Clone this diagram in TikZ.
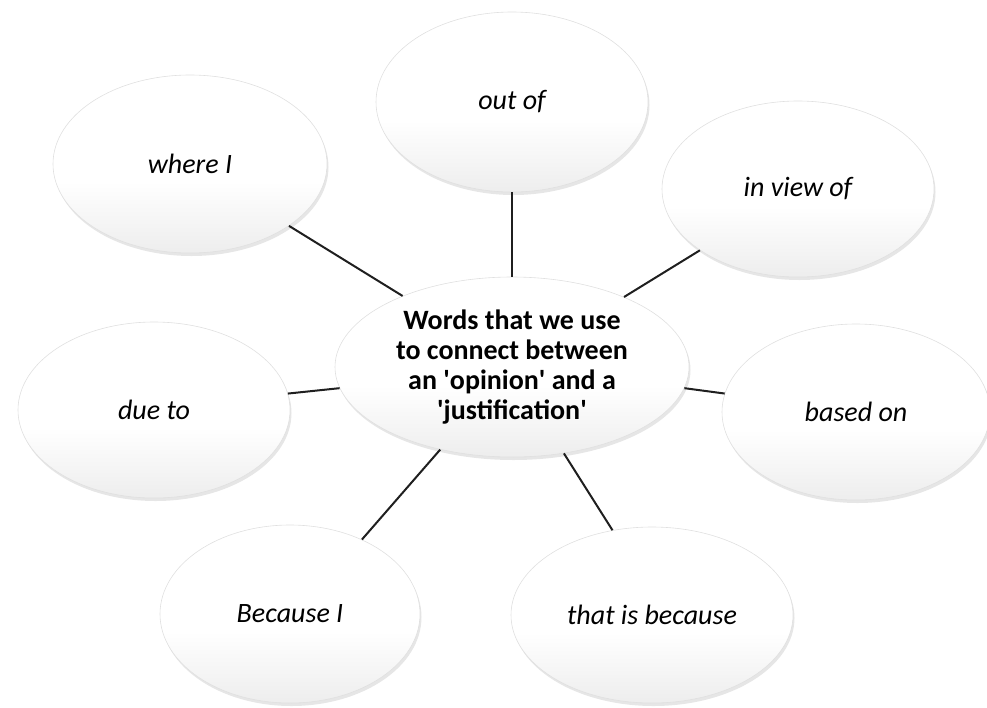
\documentclass[tikz,border=0pt]{standalone}
\usepackage{fontspec}
\setmainfont{Carlito}
\usetikzlibrary{shapes.geometric,shadows}
% white upper half fading to light grey at the bottom
\pgfdeclareverticalshading{bubbleshade}{100bp}{%
  color(0bp)=(black!15); color(25bp)=(black!7); color(45bp)=(white); color(100bp)=(white)}
\tikzset{
  bubble/.style={ellipse, inner sep=0pt, shading=bubbleshade,
    draw=black!12, line width=0.6pt,
    drop shadow={opacity=0.2, shadow xshift=1.5pt, shadow yshift=-3pt},
    font=\fontsize{28}{30}\selectfont\itshape, align=center},
  hub/.style={bubble, font=\fontsize{28}{30}\selectfont\bfseries},
  spoke/.style={line width=2pt, draw=black!88}
}
\newcommand{\sq}{\textquotesingle}
\begin{document}
\begin{tikzpicture}[x=1pt, y=-1pt]
  \useasboundingbox (0,0) rectangle (987,707);
  % central idea
  \node[hub, minimum width=354pt, minimum height=180pt] (hub) at (512,367)
    {Words that we use\\to connect between\\an \sq opinion\sq\ and a\\\sq justification\sq};
  % surrounding bubbles
  \node[bubble, minimum width=272pt, minimum height=180pt] (outof)   at (512,102) {out of};
  \node[bubble, minimum width=274pt, minimum height=178pt] (whereI)  at (190,164) {where I};
  \node[bubble, minimum width=272pt, minimum height=176pt] (inview)  at (798,189) {in view of};
  \node[bubble, minimum width=272pt, minimum height=176pt] (dueto)   at (154,410) {due to};
  \node[bubble, minimum width=268pt, minimum height=176pt] (basedon) at (856,412) {based on};
  \node[bubble, minimum width=260pt, minimum height=178pt] (because) at (290,614) {Because I};
  \node[bubble, minimum width=282pt, minimum height=176pt] (thatis)  at (652,615) {that is because};
  % spokes
  \draw[spoke] (hub.90)    -- (outof.270);
  \draw[spoke] (hub.147.5) -- (whereI.-32.3);
  \draw[spoke] (hub.32)    -- (inview.212.2);
  \draw[spoke] (hub.187)   -- (dueto.7.2);
  \draw[spoke] (hub.-7.5)  -- (basedon.172.3);
  \draw[spoke] (hub.229)   -- (because.46.5);
  \draw[spoke] (hub.-59)   -- (thatis.115);
\end{tikzpicture}
\end{document}
